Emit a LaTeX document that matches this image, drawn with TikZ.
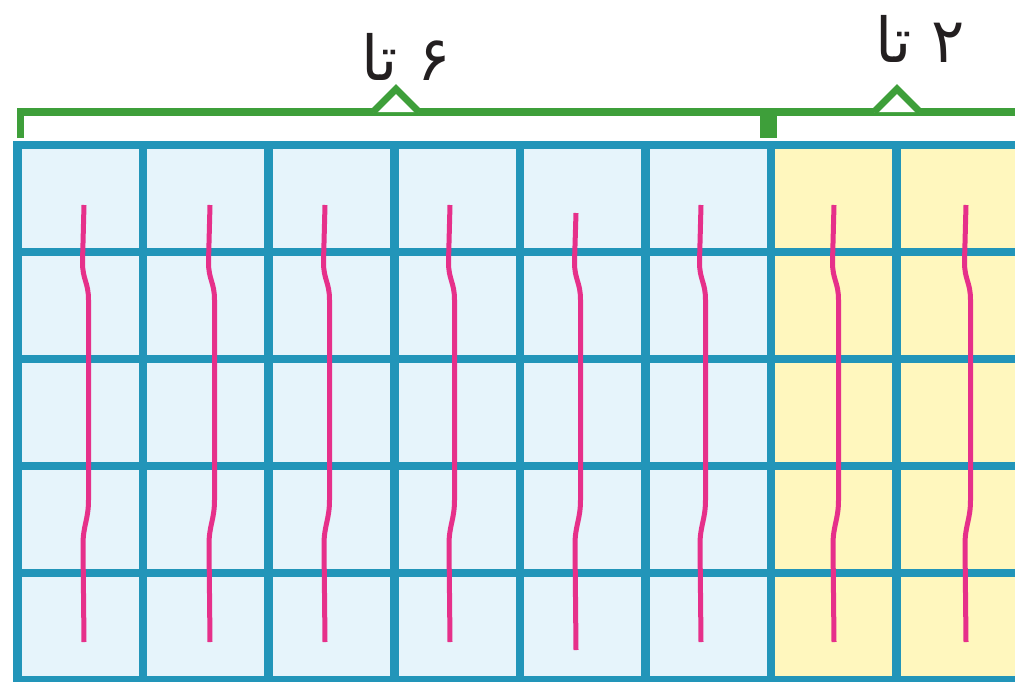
\documentclass[tikz,border=0pt]{standalone}
\usepackage{fontspec}
\newfontfamily\farsifont[Script=Arabic]{DejaVu Sans}
\TeXXeTstate=1
\definecolor{gridblue}{HTML}{2295B9}
\definecolor{cellblue}{HTML}{E6F4FB}
\definecolor{cellyellow}{HTML}{FFF7BE}
\definecolor{bracegreen}{HTML}{3E9F3A}
\definecolor{stringpink}{HTML}{E6308A}
\definecolor{inkdark}{HTML}{231F20}
\tikzset{
	gridline/.style={draw=gridblue, line width=8.5pt},
	braceline/.style={draw=bracegreen, line width=7.5pt},
	caret/.style={draw=bracegreen, fill=white, line width=7pt, miter limit=4},
	stringline/.style={draw=stringpink, line width=5pt},
	countlabel/.style={inner sep=0pt, text=inkdark, font=\farsifont\fontsize{62}{62}\selectfont}
}
\begin{document}
	\begin{tikzpicture}[x=1pt,y=-1pt]
		\useasboundingbox (0,0) rectangle (1015,681);
		\clip (0,0) rectangle (1015,681);

		\fill[cellblue] (17.5,145) rectangle (771.5,684);
		\fill[cellyellow] (771.5,145) rectangle (1030,684);

		\foreach \k in {0,...,8} {\draw[gridline] (17.5+125.6*\k,141) -- (17.5+125.6*\k,690);}
		\foreach \k in {0,...,5} {\draw[gridline] (13.5,145+107*\k) -- (1030,145+107*\k);}

		\foreach \x/\t/\b in {84/205/642, 210/205/642, 325/205/642, 450/205/642, 576/213/650, 701/205/642, 834/205/642, 966/205/642} {
			\draw[stringline] (\x,\t) -- (\x-1.5,262) .. controls (\x-1.5,280) and (\x+4.5,282) .. (\x+4.5,300) -- (\x+4.5,500) .. controls (\x+4.5,520) and (\x-1,525) .. (\x-1,545) -- (\x,\b);
		}

		\coordinate (braceleft) at (20.5,138);
		\coordinate (bracemid) at (768.5,138);
		\draw[braceline] (braceleft) -- (20.5,112) -- (1030,112);
		\draw[bracegreen, line width=17pt] (768.5,112) -- (bracemid);

		\draw[caret] (373,112) -- (396,89) -- (419,112);
		\draw[caret] (874,112) -- (897,89) -- (920,112);

		\node[countlabel] (sixlabel) at (406,57) {\beginR ۶ تا\endR};
		\node[countlabel] (twolabel) at (920,39) {\beginR ۲ تا\endR};
	\end{tikzpicture}
\end{document}
